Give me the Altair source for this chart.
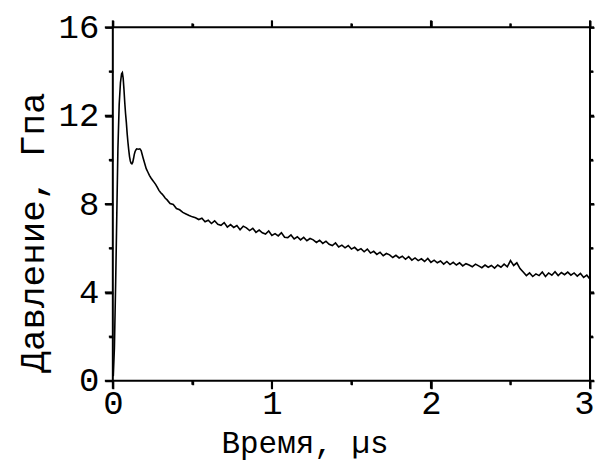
import altair as alt
import pandas as pd

# Time, microseconds
time_us = [
    0.003, 0.010, 0.018, 0.025, 0.032, 0.040, 0.048, 0.055, 0.060, 0.065,
    0.070, 0.075, 0.080, 0.085, 0.090, 0.095, 0.100, 0.105, 0.110, 0.115,
    0.120, 0.125, 0.130, 0.135, 0.140, 0.145, 0.150, 0.160, 0.170, 0.178,
    0.190, 0.200, 0.210, 0.220, 0.230, 0.240, 0.250, 0.260, 0.270, 0.280,
    0.290, 0.300, 0.310, 0.320, 0.330,
    0.34, 0.36, 0.38, 0.40, 0.42, 0.44, 0.46, 0.48, 0.50, 0.52,
    0.54, 0.56, 0.58, 0.60, 0.62, 0.64, 0.66, 0.68, 0.70, 0.72,
    0.74, 0.76, 0.78, 0.80, 0.82, 0.84, 0.86, 0.88, 0.90, 0.92,
    0.94, 0.96, 0.98, 1.00, 1.02, 1.04, 1.06, 1.08, 1.10, 1.12,
    1.14, 1.16, 1.18, 1.20, 1.22, 1.24, 1.26, 1.28, 1.30, 1.32,
    1.34, 1.36, 1.38, 1.40, 1.42, 1.44, 1.46, 1.48, 1.50, 1.52,
    1.54, 1.56, 1.58, 1.60, 1.62, 1.64, 1.66, 1.68, 1.70, 1.72,
    1.74, 1.76, 1.78, 1.80, 1.82, 1.84, 1.86, 1.88, 1.90, 1.92,
    1.94, 1.96, 1.98, 2.00, 2.02, 2.04, 2.06, 2.08, 2.10, 2.12,
    2.14, 2.16, 2.18, 2.20, 2.22, 2.24, 2.26, 2.28, 2.30, 2.32,
    2.34, 2.36, 2.38, 2.40, 2.42, 2.44, 2.46, 2.48, 2.50, 2.52,
    2.54, 2.56, 2.58, 2.60, 2.62, 2.64, 2.66, 2.68, 2.70, 2.72,
    2.74, 2.76, 2.78, 2.80, 2.82, 2.84, 2.86, 2.88, 2.90, 2.92,
    2.94, 2.96, 2.98, 3.00,
]

# Pressure, GPa
pressure_gpa = [
    0.20, 1.50, 4.50, 7.50, 10.50, 12.50, 13.50, 13.90, 13.95, 13.70,
    13.20, 12.60, 12.10, 11.70, 11.20, 10.80, 10.45, 10.15, 9.95, 9.85,
    9.82, 9.88, 10.05, 10.25, 10.38, 10.45, 10.50, 10.48, 10.50, 10.42,
    10.10, 9.85, 9.60, 9.45, 9.30, 9.18, 9.08, 8.98, 8.88, 8.75,
    8.62, 8.52, 8.45, 8.36, 8.26,
    8.20, 8.02, 7.98, 7.80, 7.74, 7.62, 7.55, 7.48, 7.42, 7.38,
    7.30, 7.36, 7.20, 7.27, 7.12, 7.24, 7.08, 7.04, 7.16, 6.96,
    7.07, 6.94, 7.03, 6.84, 7.00, 6.92, 6.80, 6.90, 6.72, 6.82,
    6.70, 6.64, 6.78, 6.58, 6.66, 6.56, 6.70, 6.50, 6.48, 6.60,
    6.42, 6.52, 6.38, 6.49, 6.34, 6.44, 6.38, 6.26, 6.36, 6.22,
    6.32, 6.18, 6.12, 6.24, 6.06, 6.14, 6.02, 6.12, 5.96, 6.04,
    5.90, 5.98, 5.84, 5.96, 5.78, 5.86, 5.72, 5.82, 5.66, 5.76,
    5.70, 5.58, 5.68, 5.56, 5.64, 5.50, 5.62, 5.46, 5.56, 5.44,
    5.52, 5.40, 5.54, 5.36, 5.46, 5.34, 5.42, 5.28, 5.40, 5.26,
    5.36, 5.24, 5.34, 5.20, 5.30, 5.24, 5.16, 5.28, 5.20, 5.12,
    5.24, 5.14, 5.22, 5.10, 5.24, 5.14, 5.28, 5.16, 5.44, 5.22,
    5.34, 5.08, 4.92, 4.76, 4.88, 4.72, 4.84, 4.76, 4.92, 4.72,
    4.88, 4.78, 4.94, 4.76, 4.90, 4.80, 4.92, 4.78, 4.88, 4.74,
    4.86, 4.68, 4.78, 4.60,
]

x_major = [0, 1, 2, 3]
x_minor = [0.5, 1.5, 2.5]
y_major = [0, 4, 8, 12, 16]
y_minor = [2, 6, 10, 14]

W, H = 478, 354

df = pd.DataFrame({"t": time_us, "p": pressure_gpa})
df_xmaj = pd.DataFrame({"t": x_major})
df_xmin = pd.DataFrame({"t": x_minor})
df_ymaj = pd.DataFrame({"p": y_major})
df_ymin = pd.DataFrame({"p": y_minor})

FONT = "Liberation Mono"

xscale = alt.Scale(domain=[0, 3], nice=False, zero=False)
yscale = alt.Scale(domain=[0, 16], nice=False)

main = alt.Chart(df).mark_line(color="black", strokeWidth=1.6).encode(
    x=alt.X(
        "t:Q",
        scale=xscale,
        axis=alt.Axis(
            orient="bottom",
            values=x_major,
            ticks=True,
            tickSize=8,
            tickColor="black",
            tickWidth=2,
            domain=False,
            format="d",
            title="Время, µs",
            titleFont=FONT,
            titleFontSize=31,
            titleFontWeight="normal",
            titleColor="black",
            titleX=192,
            titleY=72,
            titleBaseline="alphabetic",
            labelFont=FONT,
            labelFontSize=34,
            labelColor="black",
            labelPadding=-2,
            labelFlush=False,
            labelAlign={"condition": {"test": "datum.value === 3", "value": "right"}, "value": "center"},
            labelOffset={"condition": {"test": "datum.value === 3", "value": 4}, "value": 0},
            grid=False,
        ),
    ),
    y=alt.Y(
        "p:Q",
        scale=yscale,
        axis=alt.Axis(
            orient="left",
            values=y_major,
            ticks=True,
            tickSize=8,
            tickColor="black",
            tickWidth=2,
            domain=False,
            format="d",
            title="Давление, Гпа",
            titleFont=FONT,
            titleFontSize=36,
            titleFontWeight="normal",
            titleColor="black",
            titleX=-80,
            titleY=205,
            titleBaseline="middle",
            titleAlign="center",
            titleAngle=270,
            labelFont=FONT,
            labelFontSize=34,
            labelColor="black",
            labelPadding=6,
            labelFlush=False,
            grid=False,
        ),
    ),
)


def tick_axis(orient, values, size):
    return alt.Axis(
        orient=orient, values=values, ticks=True, tickSize=size,
        tickColor="black", tickWidth=2, labels=False, title=None,
        domain=False, grid=False,
    )


minor_bl = alt.Chart(df).mark_line(opacity=0).encode(
    x=alt.X("t:Q", scale=xscale, axis=tick_axis("bottom", x_minor, 4)),
    y=alt.Y("p:Q", scale=yscale, axis=tick_axis("left", y_minor, 4)),
)

major_tr = alt.Chart(df).mark_line(opacity=0).encode(
    x=alt.X("t:Q", scale=xscale, axis=tick_axis("top", x_major, 7)),
    y=alt.Y("p:Q", scale=yscale, axis=tick_axis("right", y_major, 4)),
)

minor_tr = alt.Chart(df).mark_line(opacity=0).encode(
    x=alt.X("t:Q", scale=xscale, axis=tick_axis("top", x_minor, 4)),
    y=alt.Y("p:Q", scale=yscale, axis=tick_axis("right", y_minor, 3)),
)


# The same tick marks drawn once more as rules at the tick values
def hidden_axis(orient):
    return alt.Axis(
        orient=orient, labels=False, title=None, domain=False, ticks=False,
        grid=False,
    )


def x_ticks(data, y0, y1):
    return alt.Chart(data).mark_rule(color="black", strokeWidth=2).encode(
        x=alt.X("t:Q", scale=xscale, axis=hidden_axis("bottom")),
        y=alt.value(y0),
        y2=alt.value(y1),
    )


def y_ticks(data, x0, x1):
    return alt.Chart(data).mark_rule(color="black", strokeWidth=2).encode(
        y=alt.Y("p:Q", scale=yscale, axis=hidden_axis("left")),
        x=alt.value(x0),
        x2=alt.value(x1),
    )


rule_layers = [
    x_ticks(df_xmaj, H, H + 8),
    x_ticks(df_xmin, H, H + 4),
    x_ticks(df_xmaj, -7, 0),
    x_ticks(df_xmin, -4, 0),
    y_ticks(df_ymaj, -8, 0),
    y_ticks(df_ymin, -4, 0),
    y_ticks(df_ymaj, W, W + 4),
    y_ticks(df_ymin, W, W + 3),
]

chart = (
    alt.layer(main, minor_bl, major_tr, minor_tr, *rule_layers)
    .resolve_axis(x="independent", y="independent")
    .properties(
        width=W,
        height=H,
        padding={"left": 7, "top": 2, "right": 0, "bottom": 2},
        background="white",
    )
    .configure_view(stroke="black", strokeWidth=2)
)

chart.save("out.html", embed_options={"renderer": "svg", "actions": False})
